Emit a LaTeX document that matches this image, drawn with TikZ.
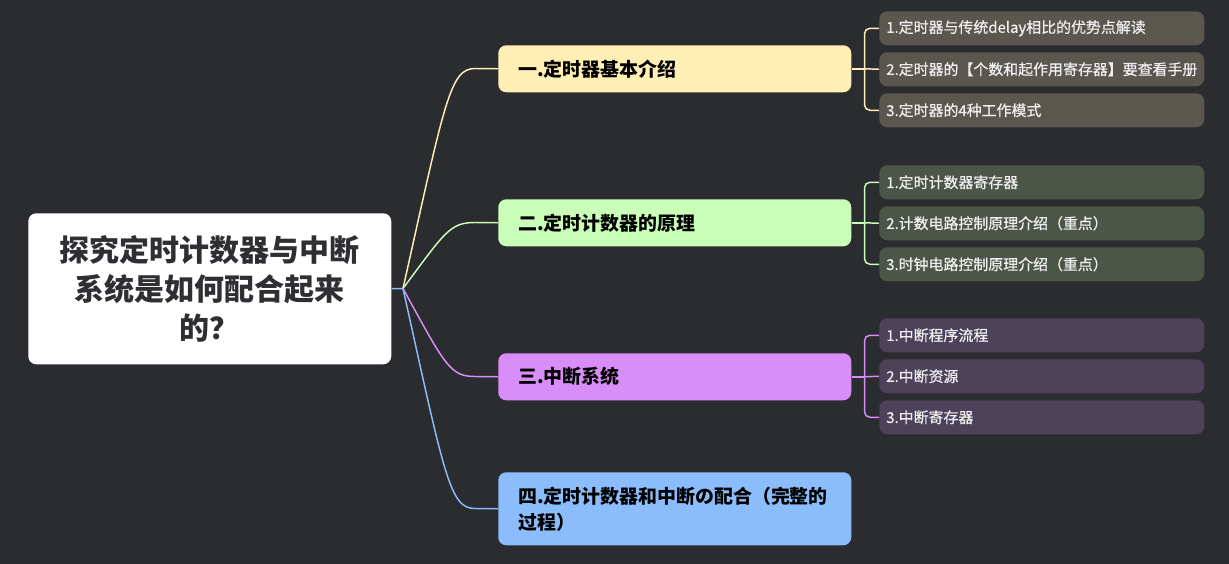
\documentclass[tikz,border=0pt]{standalone}
\usepackage{fontspec}
\setmainfont{Noto Sans CJK SC}
\newfontfamily\subfont{Noto Sans CJK SC}[UprightFeatures={FakeBold=0.6}]
\usetikzlibrary{calc}

\definecolor{bg}{HTML}{2B2C30}
\definecolor{rootink}{HTML}{2E2F33}
\definecolor{yelfill}{HTML}{FFEFB5}
\definecolor{grnfill}{HTML}{C9FDB8}
\definecolor{purfill}{HTML}{D98DF8}
\definecolor{blufill}{HTML}{8BBDFC}
\definecolor{yelsub}{HTML}{5A574F}
\definecolor{grnsub}{HTML}{4C5648}
\definecolor{pursub}{HTML}{4E415A}

\tikzset{
  rootbox/.style={fill=white, rounded corners=6pt, anchor=north west, inner sep=0pt,
    minimum width=272.25pt, minimum height=113.25pt, align=center, text=rootink,
    font=\fontsize{22.5}{29}\selectfont\bfseries},
  topic/.style={fill=#1, rounded corners=6pt, anchor=north west, inner xsep=15pt, inner ysep=0pt,
    minimum width=264.75pt, minimum height=35.25pt, text width=234.75pt, align=left,
    text=black, font=\fontsize{14.2}{19.5}\selectfont\bfseries},
  subtopic/.style={fill=#1, rounded corners=6pt, anchor=north west, inner xsep=5.25pt, inner ysep=0pt,
    minimum width=243.75pt, minimum height=25.5pt, text width=233.25pt, align=left,
    text=white!94!black, font=\subfont\fontsize{11.2}{13}\selectfont},
  link/.style={draw=#1, line width=1.1pt}
}

\begin{document}
\begin{tikzpicture}[x=0.75pt,y=-0.75pt]
\useasboundingbox[fill=bg] (0,0) rectangle (1229,564);

% central topic
\node[rootbox] (root) at (28,213) {探究定时计数器与中断\\系统是如何配合起来\\的？};

% main topics
\node[topic=yelfill] (t1) at (498,45) {一.定时器基本介绍};
\node[topic=grnfill] (t2) at (498,199) {二.定时计数器的原理};
\node[topic=purfill] (t3) at (498,353) {三.中断系统};
\node[topic=blufill, minimum height=54.75pt] (t4) at (498,472) {四.定时计数器和中断の配合（完整的\\过程）};

% subtopics
\node[subtopic=yelsub] (s11) at (879,11) {1.定时器与传统delay相比的优势点解读};
\node[subtopic=yelsub] (s12) at (879,52) {2.定时器的【个数和起作用寄存器】要查看手册};
\node[subtopic=yelsub] (s13) at (879,93) {3.定时器的4种工作模式};
\node[subtopic=grnsub] (s21) at (879,165) {1.定时计数器寄存器};
\node[subtopic=grnsub] (s22) at (879,206) {2.计数电路控制原理介绍（重点）};
\node[subtopic=grnsub] (s23) at (879,247) {3.时钟电路控制原理介绍（重点）};
\node[subtopic=pursub] (s31) at (879,318) {1.中断程序流程};
\node[subtopic=pursub] (s32) at (879,359) {2.中断资源};
\node[subtopic=pursub] (s33) at (879,400) {3.中断寄存器};

% branches from the root
\coordinate (hub) at (403,288.5);
\draw[link=blufill] (root.east) -- (hub);
\draw[link=yelfill] (hub) .. controls (445,101) and (450,68.5) .. (475,68.5) -- (t1.west);
\draw[link=grnfill] (hub) .. controls (445,232) and (450,222.5) .. (475,222.5) -- (t2.west);
\draw[link=purfill] (hub) .. controls (445,365) and (450,376.5) .. (475,376.5) -- (t3.west);
\draw[link=blufill] (hub) .. controls (445,478) and (450,508.5) .. (475,508.5) -- (t4.west);

% brackets to the subtopics
\draw[link=yelfill] (t1.east) -- ++(13,0) coordinate (k1);
\draw[link=yelfill, rounded corners=4pt] (s11.west) -| (k1) |- (s13.west);
\draw[link=yelfill] (k1) -- (s12.west);
\draw[link=grnfill] (t2.east) -- ++(13,0) coordinate (k2);
\draw[link=grnfill, rounded corners=4pt] (s21.west) -| (k2) |- (s23.west);
\draw[link=grnfill] (k2) -- (s22.west);
\draw[link=purfill] (t3.east) -- ++(13,0) coordinate (k3);
\draw[link=purfill, rounded corners=4pt] (s31.west) -| (k3) |- (s33.west);
\draw[link=purfill] (k3) -- (s32.west);

\end{tikzpicture}
\end{document}
